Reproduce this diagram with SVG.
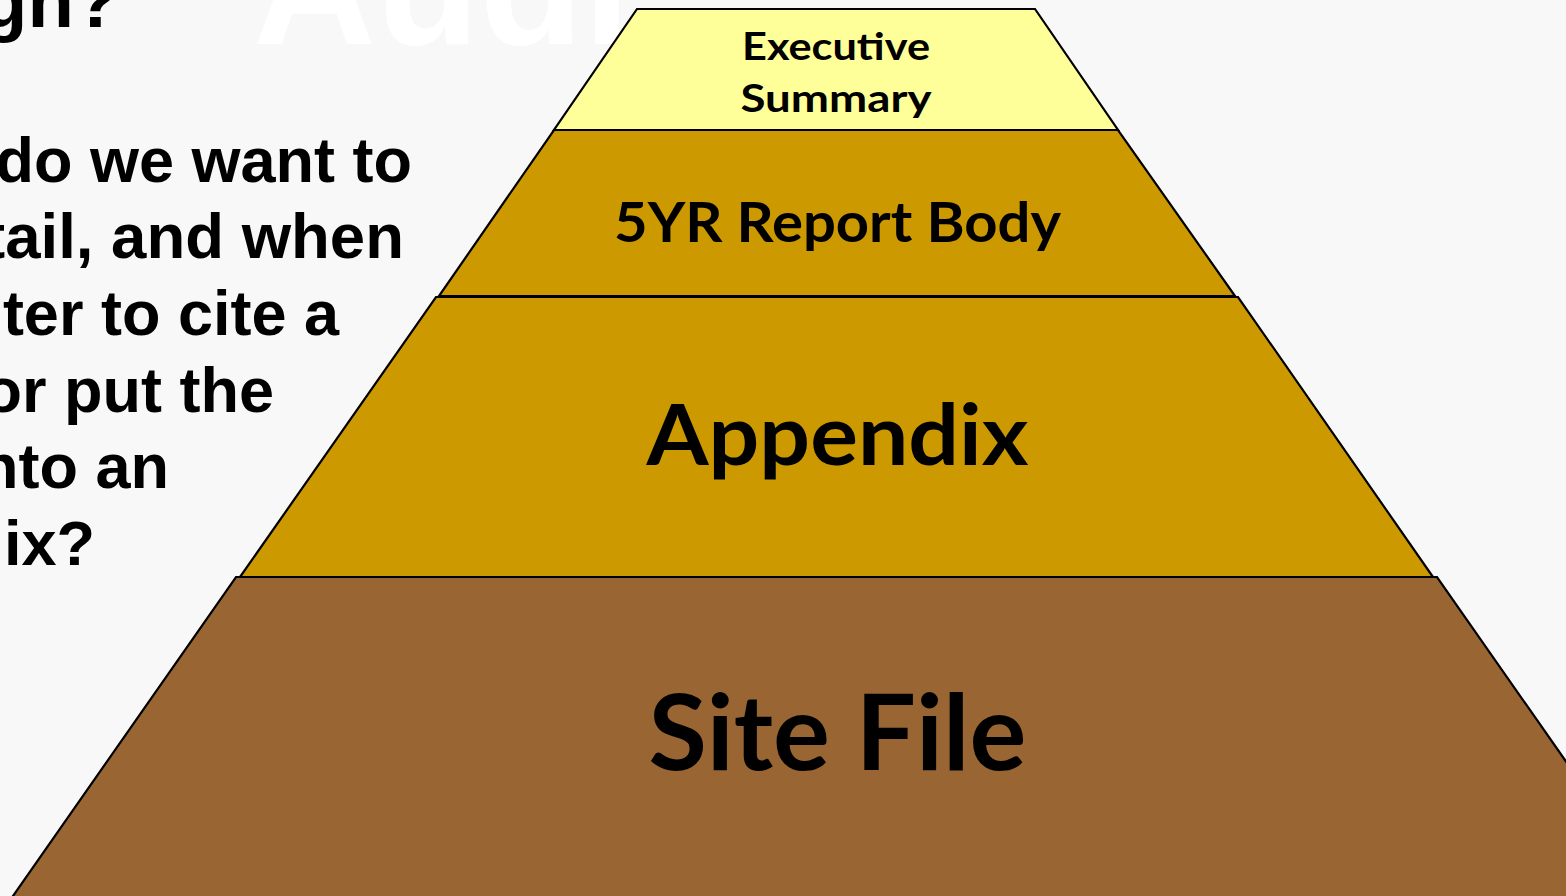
<svg xmlns="http://www.w3.org/2000/svg" width="1566" height="896" viewBox="0 0 1566 896">
  <style>
    .q { font-family: "Liberation Sans", Arial, sans-serif; font-weight: bold; font-size: 63px; fill: #000; text-anchor: end; }
    .tier { stroke: #000; stroke-width: 2.2; stroke-linejoin: miter; }
    .lbl { font-family: Lato, "Open Sans", sans-serif; font-weight: bold; fill: #000; text-anchor: middle; }
  </style>
  <rect x="0" y="0" width="1566" height="896" fill="#f8f8f8"/>
  <text x="253" y="44" font-family="Liberation Sans, Arial, sans-serif" font-weight="bold" font-size="170" fill="#ffffff">Audi</text>
  <g id="question">
    <text x="-19" y="27" font-family="Liberation Sans, Arial, sans-serif" font-weight="bold" font-size="76" fill="#000">gn?</text>
    <text class="q" x="412" y="182">do we want to</text>
    <text class="q" x="404" y="258" textLength="420" lengthAdjust="spacingAndGlyphs">tail, and when</text>
    <text class="q" x="339" y="335">ter to cite a</text>
    <text class="q" x="274" y="412">or put the</text>
    <text class="q" x="169" y="488">nto an</text>
    <text class="q" x="95" y="565">ix?</text>
  </g>
  <g id="site-file">
    <polygon class="tier" fill="#996633" points="236,577 1437,577 1667,906 6,906"/>
    <text class="lbl" x="837.5" y="770" font-size="105" textLength="378" lengthAdjust="spacingAndGlyphs">Site File</text>
  </g>
  <g id="appendix">
    <polygon class="tier" fill="#cc9900" points="436,297 1238,297 1433,577 240,577"/>
    <text class="lbl" x="837.5" y="465" font-size="84" textLength="382" lengthAdjust="spacingAndGlyphs">Appendix</text>
  </g>
  <g id="report-body">
    <polygon class="tier" fill="#cc9900" points="554,130 1118,130 1235,296 439,296"/>
    <text class="lbl" x="837.5" y="242" font-size="56" textLength="447" lengthAdjust="spacingAndGlyphs">5YR Report Body</text>
  </g>
  <g id="executive-summary">
    <polygon class="tier" fill="#ffff99" points="637,9 1035,9 1118,130 554,130"/>
    <text class="lbl" x="836" y="60" font-size="38" textLength="188" lengthAdjust="spacingAndGlyphs">Executive</text>
    <text class="lbl" x="836" y="112" font-size="38" textLength="191" lengthAdjust="spacingAndGlyphs">Summary</text>
  </g>
  <g id="connectors"/>
</svg>
